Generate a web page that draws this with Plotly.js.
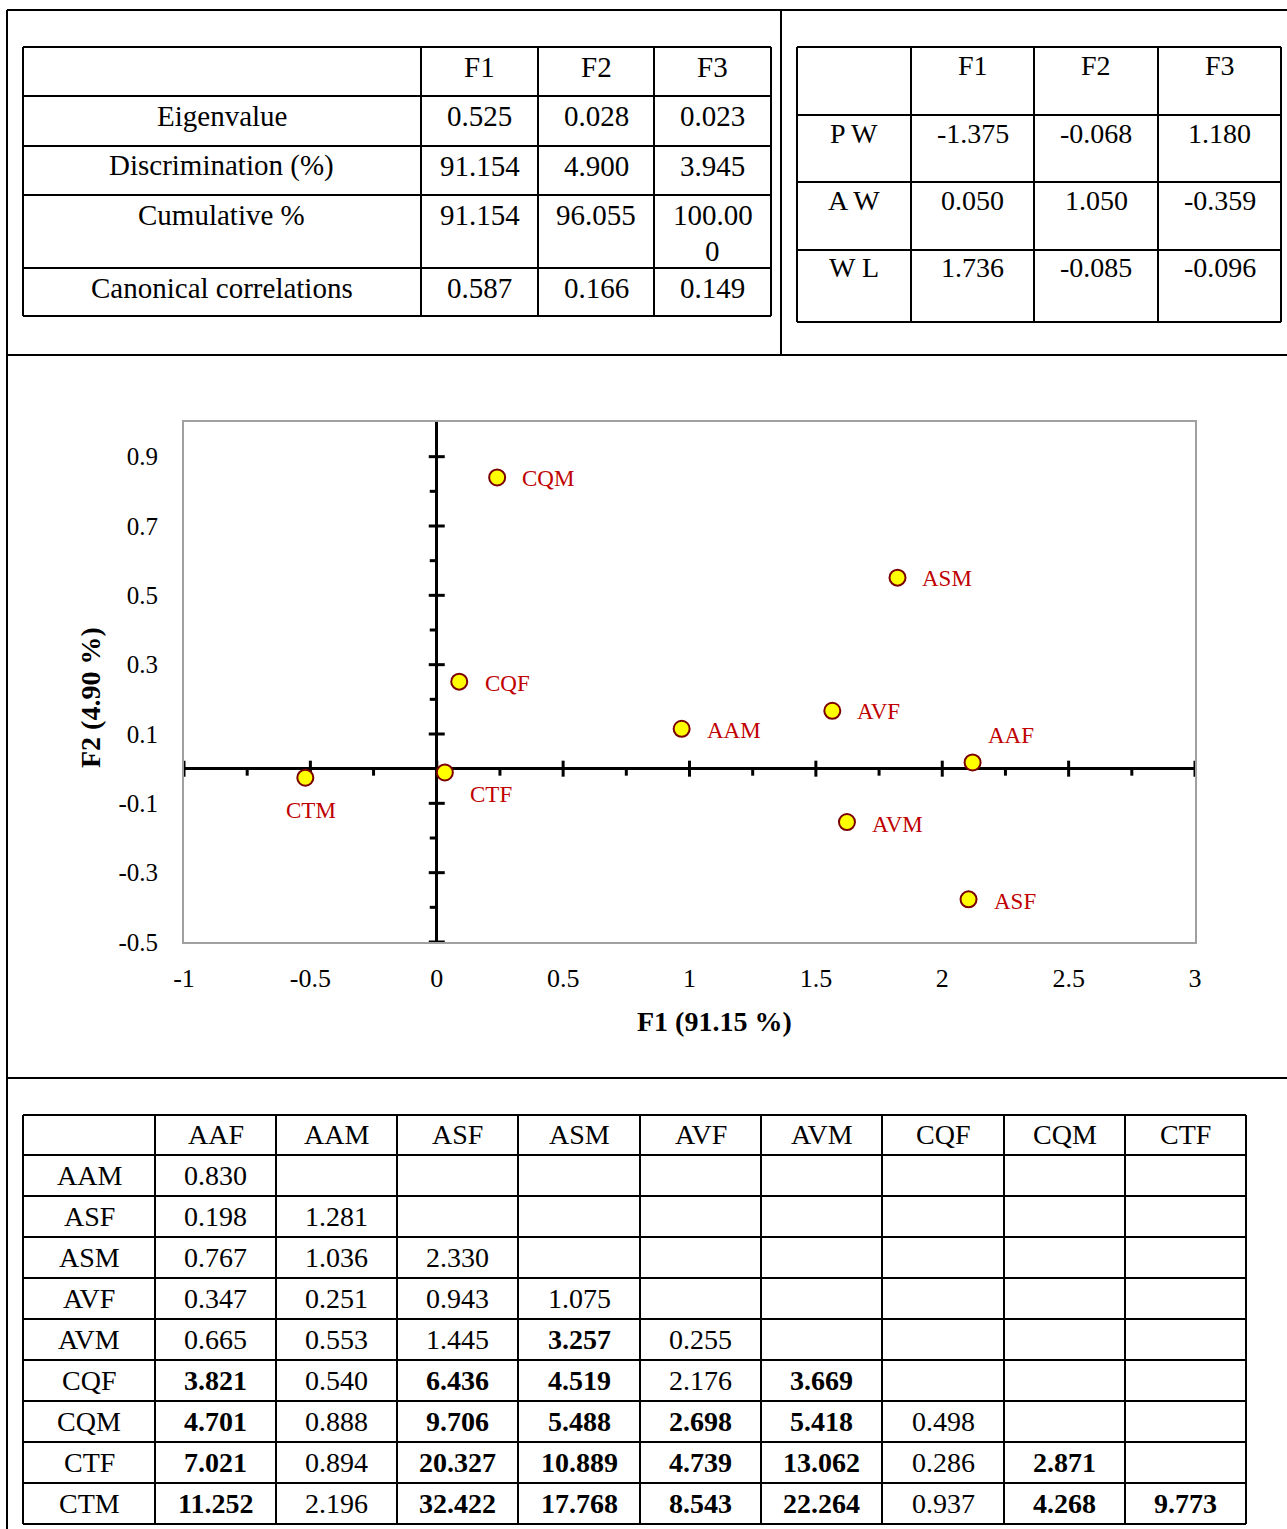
<!DOCTYPE html>
<html><head><meta charset="utf-8">
<script src="https://cdn.plot.ly/plotly-3.0.1.min.js"></script>
<style>html,body{margin:0;padding:0;background:#fff;}#chart{width:1287px;height:1529px;}</style>
</head><body><div id="chart"></div>
<script>
// ================= DATA =================
// Table 1: summary of discriminant functions
const factors = ['F1', 'F2', 'F3'];
const summaryLabels = ['Eigenvalue', 'Discrimination (%)', 'Cumulative %', 'Canonical correlations'];
const eigenvalue = ['0.525', '0.028', '0.023'];
const discrimination = ['91.154', '4.900', '3.945'];
const cumulative = ['91.154', '96.055', '100.000'];
const canonicalCorr = ['0.587', '0.166', '0.149'];

// Table 2: standardized coefficients
const coefVariables = ['P W', 'A W', 'W L'];
const coefPW = ['-1.375', '-0.068', '1.180'];
const coefAW = ['0.050', '1.050', '-0.359'];
const coefWL = ['1.736', '-0.085', '-0.096'];

// Scatter: group centroids on F1 / F2
const groups = ['AAF', 'AAM', 'ASF', 'ASM', 'AVF', 'AVM', 'CQF', 'CQM', 'CTF', 'CTM'];
const f1Scores = [2.120, 0.969, 2.104, 1.823, 1.565, 1.623, 0.089, 0.239, 0.032, -0.520];
const f2Scores = [0.018, 0.115, -0.377, 0.551, 0.167, -0.154, 0.251, 0.840, -0.011, -0.026];

const xTickVals = [-1, -0.5, 0, 0.5, 1, 1.5, 2, 2.5, 3];
const xTickText = ['-1', '-0.5', '0', '0.5', '1', '1.5', '2', '2.5', '3'];
const yTickVals = [-0.5, -0.3, -0.1, 0.1, 0.3, 0.5, 0.7, 0.9];
const yTickText = ['-0.5', '-0.3', '-0.1', '0.1', '0.3', '0.5', '0.7', '0.9'];
const xMinorTicks = [-0.75, -0.25, 0.25, 0.75, 1.25, 1.75, 2.25, 2.75];
const yMinorTicks = [-0.4, -0.2, 0.2, 0.4, 0.6, 0.8];
const xTitle = 'F1 (91.15 %)';
const yTitle = 'F2 (4.90 %)';

// Table 3: distances between groups (lower triangle), bold = significant
const distCols = ['AAF', 'AAM', 'ASF', 'ASM', 'AVF', 'AVM', 'CQF', 'CQM', 'CTF'];
const distRows = ['AAM', 'ASF', 'ASM', 'AVF', 'AVM', 'CQF', 'CQM', 'CTF', 'CTM'];
const distAAM = ['0.830'];
const distASF = ['0.198', '1.281'];
const distASM = ['0.767', '1.036', '2.330'];
const distAVF = ['0.347', '0.251', '0.943', '1.075'];
const distAVM = ['0.665', '0.553', '1.445', '3.257', '0.255'];
const distCQF = ['3.821', '0.540', '6.436', '4.519', '2.176', '3.669'];
const distCQM = ['4.701', '0.888', '9.706', '5.488', '2.698', '5.418', '0.498'];
const distCTF = ['7.021', '0.894', '20.327', '10.889', '4.739', '13.062', '0.286', '2.871'];
const distCTM = ['11.252', '2.196', '32.422', '17.768', '8.543', '22.264', '0.937', '4.268', '9.773'];
const sigAAM = [0];
const sigASF = [0, 0];
const sigASM = [0, 0, 0];
const sigAVF = [0, 0, 0, 0];
const sigAVM = [0, 0, 0, 1, 0];
const sigCQF = [1, 0, 1, 1, 0, 1];
const sigCQM = [1, 0, 1, 1, 1, 1, 0];
const sigCTF = [1, 0, 1, 1, 1, 1, 0, 1];
const sigCTM = [1, 0, 1, 1, 1, 1, 0, 1, 1];

// ================= LAYOUT HELPERS =================
const W = 1287, H = 1529;
const PX = p => p / W;
const PY = p => 1 - p / H;
const SERIF = 'Liberation Serif, Times New Roman, serif';
const shapes = [];
const annotations = [];

function line(x0, y0, x1, y1, w) {
  shapes.push({type: 'line', xref: 'paper', yref: 'paper',
    x0: PX(x0), y0: PY(y0), x1: PX(x1), y1: PY(y1),
    line: {color: '#000', width: w || 2}});
}
function grid(cols, rows, w) {
  rows.forEach(r => line(cols[0], r, cols[cols.length - 1], r, w));
  cols.forEach(c => line(c, rows[0], c, rows[rows.length - 1], w));
}
function txt(x, y, s, size, bold, anchor, angle) {
  annotations.push({xref: 'paper', yref: 'paper', x: PX(x), y: PY(y),
    text: bold ? '<b>' + s + '</b>' : s, showarrow: false,
    xanchor: anchor || 'center', yanchor: 'middle', textangle: angle || 0,
    font: {family: SERIF, size: size, color: '#000'}});
}

// page frame
line(7, 10, W, 10, 2);
line(7, 10, 7, H, 2);
line(781, 10, 781, 355, 2);
line(7, 355, W, 355, 2);
line(7, 1078, W, 1078, 2);

// ---- Table 1 ----
const t1Cols = [23, 421, 538, 654, 771];
const t1Rows = [47, 96, 146, 195, 268, 316];
grid(t1Cols, t1Rows, 2);
const t1Data = [eigenvalue, discrimination, cumulative, canonicalCorr];
const mid = (a, i) => (a[i] + a[i + 1]) / 2;
factors.forEach((f, j) => txt(mid(t1Cols, j + 1), t1Rows[0] + 20, f, 29));
summaryLabels.forEach((lab, i) => {
  const top = t1Rows[i + 1];
  txt(mid(t1Cols, 0), top + 20, lab, 29);
  t1Data[i].forEach((v, j) => {
    const parts = v.length > 6 ? [v.slice(0, 6), v.slice(6)] : [v];
    parts.forEach((p, k) => txt(mid(t1Cols, j + 1), top + 20 + k * 36, p, 29));
  });
});

// ---- Table 2 ----
const t2Cols = [797, 911, 1034, 1158, 1281];
const t2Rows = [47, 115, 182, 250, 322];
grid(t2Cols, t2Rows, 2);
const t2Data = [coefPW, coefAW, coefWL];
factors.forEach((f, j) => txt(mid(t2Cols, j + 1), t2Rows[0] + 19, f, 28));
coefVariables.forEach((v, i) => {
  const top = t2Rows[i + 1];
  txt(mid(t2Cols, 0), top + 18, v, 28);
  t2Data[i].forEach((val, j) => txt(mid(t2Cols, j + 1), top + 18, val, 28));
});

// ---- Table 3 ----
const t3Cols = [23, 155, 276, 397, 518, 640, 761, 882, 1004, 1125, 1246];
const t3Rows = [1115, 1155, 1196, 1237, 1278, 1319, 1360, 1401, 1442, 1483, 1524];
grid(t3Cols, t3Rows, 2);
const t3Data = [distAAM, distASF, distASM, distAVF, distAVM, distCQF, distCQM, distCTF, distCTM];
const t3Sig = [sigAAM, sigASF, sigASM, sigAVF, sigAVM, sigCQF, sigCQM, sigCTF, sigCTM];
distCols.forEach((c, j) => txt(mid(t3Cols, j + 1), mid(t3Rows, 0) - 1, c, 28));
distRows.forEach((r, i) => {
  const cy = mid(t3Rows, i + 1);
  txt(mid(t3Cols, 0), cy, r, 28);
  t3Data[i].forEach((v, j) => txt(mid(t3Cols, j + 1), cy, v, 28, t3Sig[i][j] === 1));
});

// ---- Scatter axes: crossing ticks ----
const TICKC = '#000';
xTickVals.forEach(v => shapes.push({type: 'line', xref: 'x', yref: 'y', layer: 'between',
  x0: v, x1: v, ysizemode: 'pixel', yanchor: 0, y0: -8, y1: 8, line: {color: TICKC, width: 3}}));
xMinorTicks.forEach(v => shapes.push({type: 'line', xref: 'x', yref: 'y', layer: 'between',
  x0: v, x1: v, ysizemode: 'pixel', yanchor: 0, y0: -7, y1: 0, line: {color: TICKC, width: 3}}));
yTickVals.forEach(v => shapes.push({type: 'line', xref: 'x', yref: 'y', layer: 'between',
  y0: v, y1: v, xsizemode: 'pixel', xanchor: 0, x0: -8, x1: 8, line: {color: TICKC, width: 3}}));
yMinorTicks.forEach(v => shapes.push({type: 'line', xref: 'x', yref: 'y', layer: 'between',
  y0: v, y1: v, xsizemode: 'pixel', xanchor: 0, x0: -7, x1: 0, line: {color: TICKC, width: 3}}));

// axis titles (placed as in the original, off-centre)
txt(714, 1022, xTitle, 28, true);
txt(90, 698, yTitle, 28, true, 'center', -90);

// ---- Point labels ----
// [xanchor, xshift, yshift] per group (label placement only)
const labelPlacement = {
  AAF: ['left', 13, 27], AAM: ['left', 23, -2], ASF: ['left', 23, -2], ASM: ['left', 22, -1],
  AVF: ['left', 23, -1], AVM: ['left', 23, -2], CQF: ['left', 24, -2], CQM: ['left', 23, -1],
  CTF: ['left', 23, -22], CTM: ['center', 6, -33]
};
groups.forEach((g, i) => {
  const p = labelPlacement[g];
  annotations.push({xref: 'x', yref: 'y', x: f1Scores[i], y: f2Scores[i], text: g,
    showarrow: false, xanchor: p[0], yanchor: 'middle', xshift: p[1], yshift: p[2],
    font: {family: SERIF, size: 23, color: '#C00000'}});
});

const traces = [{
  type: 'scatter', mode: 'markers', x: f1Scores, y: f2Scores, text: groups,
  hoverinfo: 'text', cliponaxis: false, showlegend: false,
  marker: {size: 16, color: '#FFFF00', line: {color: '#7B0000', width: 2}}
}];

const layout = {
  width: W, height: H,
  margin: {l: 0, r: 0, t: 0, b: 0},
  paper_bgcolor: '#fff', plot_bgcolor: '#fff',
  showlegend: false,
  xaxis: {
    domain: [PX(184), PX(1195)], range: [-1, 3], fixedrange: true,
    showgrid: false, zeroline: true, zerolinecolor: '#000', zerolinewidth: 3,
    showline: true, mirror: true, linecolor: '#A0A0A0', linewidth: 2,
    ticks: '', tickmode: 'array', tickvals: xTickVals, ticktext: xTickText,
    ticklabelstandoff: 12,
    tickfont: {family: SERIF, size: 26, color: '#000'}
  },
  yaxis: {
    domain: [PY(942), PY(422)], range: [-0.5, 1.0], fixedrange: true,
    showgrid: false, zeroline: true, zerolinecolor: '#000', zerolinewidth: 3,
    showline: true, mirror: true, linecolor: '#A0A0A0', linewidth: 2,
    ticks: '', tickmode: 'array', tickvals: yTickVals, ticktext: yTickText,
    ticklabelstandoff: 19,
    tickfont: {family: SERIF, size: 25, color: '#000'}
  },
  shapes: shapes,
  annotations: annotations
};

Plotly.newPlot('chart', traces, layout, {displayModeBar: false, staticPlot: true});
</script>
</body></html>
